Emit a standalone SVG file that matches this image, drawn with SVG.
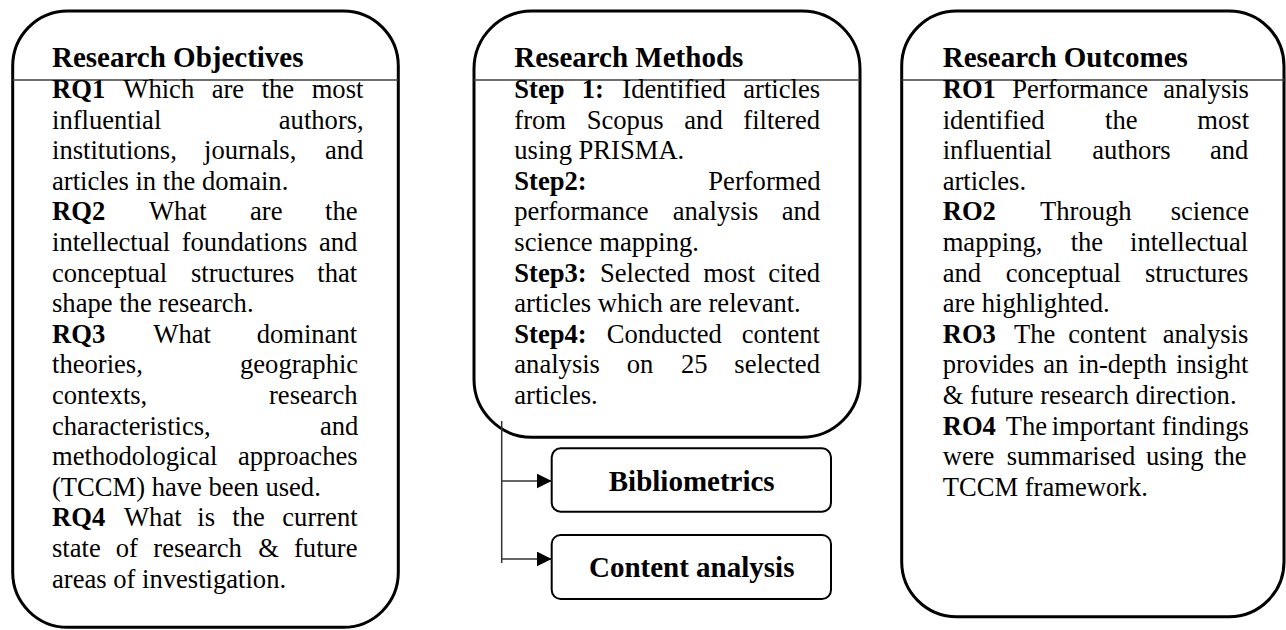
<svg xmlns="http://www.w3.org/2000/svg" width="1286" height="630" viewBox="0 0 1286 630">
<style>
.box{fill:#fff;stroke:#000;stroke-width:3}
.hl{stroke:#404040;stroke-width:1.5}
.h{font-family:"Liberation Serif","Times New Roman",serif;font-size:29px;font-weight:bold;fill:#000}
.t{font-family:"Liberation Serif","Times New Roman",serif;font-size:26.6px;fill:#000}
.b{font-weight:bold}
.sb{fill:#fff;stroke:#000;stroke-width:2}
.c{text-anchor:middle}
.conn{stroke:#333;stroke-width:1.5;fill:none}
</style>
<defs>
<marker id="arr" markerUnits="userSpaceOnUse" markerWidth="16" markerHeight="16" refX="15" refY="7.5" orient="auto">
<path d="M0,0 L15,7.5 L0,15 Z" fill="#000"/>
</marker>
</defs>
<rect width="1286" height="630" fill="#fff"/>

<g id="objectives">
<rect class="box" x="12.7" y="11" width="385.6" height="616.3" rx="55" ry="55"/>
<line class="hl" x1="12.7" y1="80" x2="398.3" y2="80"/>
<text class="h" x="52" y="67">Research Objectives</text>
<text class="t" y="98"><tspan class="b" x="52">RQ1</tspan><tspan x="123.3">Which</tspan><tspan x="211.7">are</tspan><tspan x="261.7">the</tspan><tspan x="311.7">most</tspan></text>
<text class="t" y="128.6"><tspan x="52">influential</tspan><tspan x="278.8">authors,</tspan></text>
<text class="t" y="159.2"><tspan x="52">institutions,</tspan><tspan x="204">journals,</tspan><tspan x="325">and</tspan></text>
<text class="t" x="52" y="189.8">articles in the domain.</text>
<text class="t" y="220.4"><tspan class="b" x="52">RQ2</tspan><tspan x="149">What</tspan><tspan x="250">are</tspan><tspan x="325">the</tspan></text>
<text class="t" y="251"><tspan x="52">intellectual</tspan><tspan x="181.7">foundations</tspan><tspan x="319">and</tspan></text>
<text class="t" y="281.6"><tspan x="52">conceptual</tspan><tspan x="191">structures</tspan><tspan x="317.3">that</tspan></text>
<text class="t" x="52" y="312.2">shape the research.</text>
<text class="t" y="342.8"><tspan class="b" x="52">RQ3</tspan><tspan x="153.3">What</tspan><tspan x="256.7">dominant</tspan></text>
<text class="t" y="373.4"><tspan x="52">theories,</tspan><tspan x="240">geographic</tspan></text>
<text class="t" y="404"><tspan x="52">contexts,</tspan><tspan x="269">research</tspan></text>
<text class="t" y="434.6"><tspan x="52">characteristics,</tspan><tspan x="320">and</tspan></text>
<text class="t" y="465.2"><tspan x="52">methodological</tspan><tspan x="238">approaches</tspan></text>
<text class="t" x="52" y="495.8">(TCCM) have been used.</text>
<text class="t" y="526.4"><tspan class="b" x="52">RQ4</tspan><tspan x="124">What</tspan><tspan x="197.3">is</tspan><tspan x="232.3">the</tspan><tspan x="282.3">current</tspan></text>
<text class="t" y="557"><tspan x="52">state</tspan><tspan x="115.7">of</tspan><tspan x="153.3">research</tspan><tspan x="258.3">&amp;</tspan><tspan x="294">future</tspan></text>
<text class="t" x="52" y="587.6">areas of investigation.</text>
</g>

<g id="methods">
<rect class="box" x="474" y="11" width="386" height="426.3" rx="58" ry="58"/>
<line class="hl" x1="474" y1="80" x2="860" y2="80"/>
<text class="h" x="514.3" y="67">Research Methods</text>
<text class="t" y="98"><tspan class="b" x="514.3">Step</tspan><tspan class="b" x="581.7">1:</tspan><tspan x="622.3">Identified</tspan><tspan x="743.3">articles</tspan></text>
<text class="t" y="128.6"><tspan x="514.3">from</tspan><tspan x="586.7">Scopus</tspan><tspan x="684.3">and</tspan><tspan x="743.3">filtered</tspan></text>
<text class="t" x="514.3" y="159.2">using PRISMA.</text>
<text class="t" y="189.8"><tspan class="b" x="514.3">Step2:</tspan><tspan x="708.3">Performed</tspan></text>
<text class="t" y="220.4"><tspan x="514.3">performance</tspan><tspan x="672.7">analysis</tspan><tspan x="781.7">and</tspan></text>
<text class="t" x="514.3" y="251">science mapping.</text>
<text class="t" y="281.6"><tspan class="b" x="514.3">Step3:</tspan><tspan x="600">Selected</tspan><tspan x="703.3">most</tspan><tspan x="768.3">cited</tspan></text>
<text class="t" x="514.3" y="312.2">articles which are relevant.</text>
<text class="t" y="342.8"><tspan class="b" x="514.3">Step4:</tspan><tspan x="606.7">Conducted</tspan><tspan x="741.7">content</tspan></text>
<text class="t" y="373.4"><tspan x="514.3">analysis</tspan><tspan x="626.7">on</tspan><tspan x="681">25</tspan><tspan x="734.3">selected</tspan></text>
<text class="t" x="514.3" y="404">articles.</text>
</g>

<g id="bibliometrics">
<rect class="sb" x="551.7" y="448.3" width="279.3" height="63.4" rx="9" ry="9"/>
<text class="h c" x="691.7" y="490.7">Bibliometrics</text>
</g>

<g id="content-analysis">
<rect class="sb" x="551.7" y="535" width="279.3" height="64" rx="9" ry="9"/>
<text class="h c" x="691.7" y="577.3">Content analysis</text>
</g>

<g id="outcomes">
<rect class="box" x="901.7" y="11" width="382.3" height="605.7" rx="55" ry="55"/>
<line class="hl" x1="901.7" y1="80" x2="1286" y2="80"/>
<text class="h" x="942.7" y="67">Research Outcomes</text>
<text class="t" y="98"><tspan class="b" x="942.7">RO1</tspan><tspan x="1012.3">Performance</tspan><tspan x="1163.3">analysis</tspan></text>
<text class="t" y="128.6"><tspan x="942.7">identified</tspan><tspan x="1105">the</tspan><tspan x="1197.3">most</tspan></text>
<text class="t" y="159.2"><tspan x="942.7">influential</tspan><tspan x="1092.3">authors</tspan><tspan x="1210">and</tspan></text>
<text class="t" x="942.7" y="189.8">articles.</text>
<text class="t" y="220.4"><tspan class="b" x="942.7">RO2</tspan><tspan x="1040">Through</tspan><tspan x="1170.7">science</tspan></text>
<text class="t" y="251"><tspan x="942.7">mapping,</tspan><tspan x="1070.7">the</tspan><tspan x="1130">intellectual</tspan></text>
<text class="t" y="281.6"><tspan x="942.7">and</tspan><tspan x="1005.7">conceptual</tspan><tspan x="1145">structures</tspan></text>
<text class="t" x="942.7" y="312.2">are highlighted.</text>
<text class="t" y="342.8"><tspan class="b" x="942.7">RO3</tspan><tspan x="1014">The</tspan><tspan x="1068.3">content</tspan><tspan x="1162.7">analysis</tspan></text>
<text class="t" y="373.4"><tspan x="942.7">provides</tspan><tspan x="1043.3">an</tspan><tspan x="1078.3">in-depth</tspan><tspan x="1176">insight</tspan></text>
<text class="t" x="942.7" y="404">&amp; future research direction.</text>
<text class="t" y="434.6"><tspan class="b" x="942.7">RO4</tspan><tspan x="1005.7">The</tspan><tspan x="1051.7">important</tspan><tspan x="1161.7">findings</tspan></text>
<text class="t" y="465.2"><tspan x="942.7">were</tspan><tspan x="1006.7">summarised</tspan><tspan x="1146">using</tspan><tspan x="1214">the</tspan></text>
<text class="t" x="942.7" y="495.8">TCCM framework.</text>
</g>

<g id="connectors">
<line class="conn" x1="501.7" y1="421" x2="501.7" y2="563"/>
<line class="conn" x1="501.7" y1="481" x2="551.7" y2="481" marker-end="url(#arr)"/>
<line class="conn" x1="501.7" y1="559" x2="551.7" y2="559" marker-end="url(#arr)"/>
</g>
</svg>
